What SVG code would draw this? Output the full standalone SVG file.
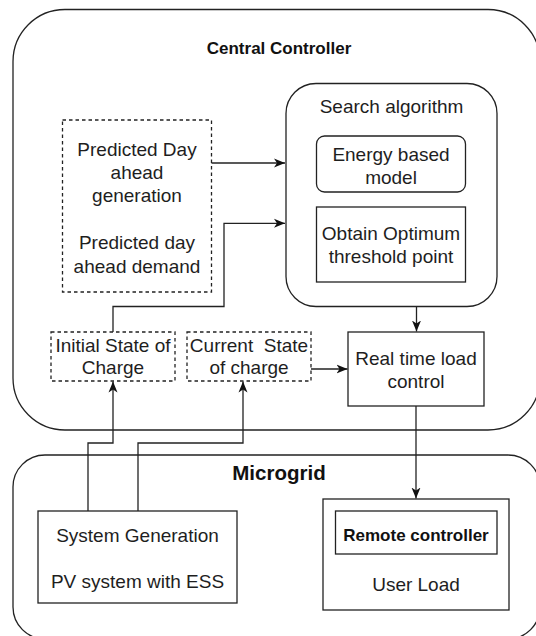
<svg xmlns="http://www.w3.org/2000/svg" width="536" height="636" viewBox="0 0 536 636">
<defs>
<style>
.box{fill:#fff;stroke:#222;stroke-width:1.3}
.dash{fill:#fff;stroke:#222;stroke-width:1.3;stroke-dasharray:3.5 3}
.t{font-family:"Liberation Sans",Arial,sans-serif;font-size:19px;fill:#1e1e1e;text-anchor:middle}
.b{font-family:"Liberation Sans",Arial,sans-serif;font-weight:bold;fill:#111;text-anchor:middle}
.c{fill:none;stroke:#222;stroke-width:1.3}
</style>
<marker id="ah" markerUnits="userSpaceOnUse" markerWidth="12" markerHeight="10" viewBox="0 0 12 10" refX="11" refY="5" orient="auto">
<path d="M0,0.5 L11,5 L0,9.5 L3,5 Z" fill="#111"/>
</marker>
</defs>
<rect width="536" height="636" fill="#fff"/>
<g id="central-controller">
<rect class="box" x="13" y="9.5" width="527" height="420.5" rx="52" ry="52"/>
<text class="b" x="279" y="53.5" font-size="17">Central Controller</text>
</g>
<g id="microgrid">
<rect class="box" x="13" y="455" width="527" height="184" rx="32" ry="32"/>
<text class="b" x="279" y="480" font-size="20.5">Microgrid</text>
</g>
<g id="predicted">
<rect class="dash" x="62.5" y="120" width="149" height="172"/>
<text class="t" x="137" y="156">Predicted Day</text>
<text class="t" x="137" y="179">ahead</text>
<text class="t" x="137" y="201.5">generation</text>
<text class="t" x="137" y="249">Predicted day</text>
<text class="t" x="137" y="272.5">ahead demand</text>
</g>
<g id="search-algorithm">
<rect class="box" x="286" y="83.5" width="211" height="223" rx="30" ry="30"/>
<text class="t" x="391.5" y="113" font-size="18">Search algorithm</text>
</g>
<g id="energy-model">
<rect class="box" x="316.5" y="136" width="149" height="56" rx="8" ry="8"/>
<text class="t" x="391" y="160.5">Energy based</text>
<text class="t" x="391" y="184">model</text>
</g>
<g id="optimum">
<rect class="box" x="316.5" y="207" width="149" height="75"/>
<text class="t" x="391" y="240">Obtain Optimum</text>
<text class="t" x="391" y="263">threshold point</text>
</g>
<g id="initial-soc">
<rect class="dash" x="51" y="332" width="124" height="49"/>
<text class="t" x="113" y="351.5">Initial State of</text>
<text class="t" x="113" y="374">Charge</text>
</g>
<g id="current-soc">
<rect class="dash" x="187" y="332" width="124" height="49"/>
<text class="t" x="249" y="351.5" style="white-space:pre" xml:space="preserve">Current  State</text>
<text class="t" x="249" y="374">of charge</text>
</g>
<g id="real-time">
<rect class="box" x="348" y="332" width="136" height="74"/>
<text class="t" x="416" y="365">Real time load</text>
<text class="t" x="416" y="388">control</text>
</g>
<g id="system-generation">
<rect class="box" x="38" y="511" width="199" height="92"/>
<text class="t" x="137.5" y="541.5" font-size="18.5">System Generation</text>
<text class="t" x="137.5" y="588">PV system with ESS</text>
</g>
<g id="user-load">
<rect class="box" x="323" y="499" width="186" height="111"/>
<text class="t" x="416" y="591" font-size="17">User Load</text>
</g>
<g id="remote-controller">
<rect class="box" x="335.5" y="511" width="161.5" height="43"/>
<text class="b" x="416" y="540.5" font-size="17">Remote controller</text>
</g>
<g id="connectors">
<path class="c" d="M211.5,163 H285" marker-end="url(#ah)"/>
<path class="c" d="M113,332 V306.5 H224 V223.3 H285" marker-end="url(#ah)"/>
<path class="c" d="M416.5,306.5 V331.5" marker-end="url(#ah)"/>
<path class="c" d="M311,369 H347.5" marker-end="url(#ah)"/>
<path class="c" d="M416,406 V498.5" marker-end="url(#ah)"/>
<path class="c" d="M88,511 V443 H113 V381.5" marker-end="url(#ah)"/>
<path class="c" d="M138,511 V443 H243 V381.5" marker-end="url(#ah)"/>
</g>
</svg>
